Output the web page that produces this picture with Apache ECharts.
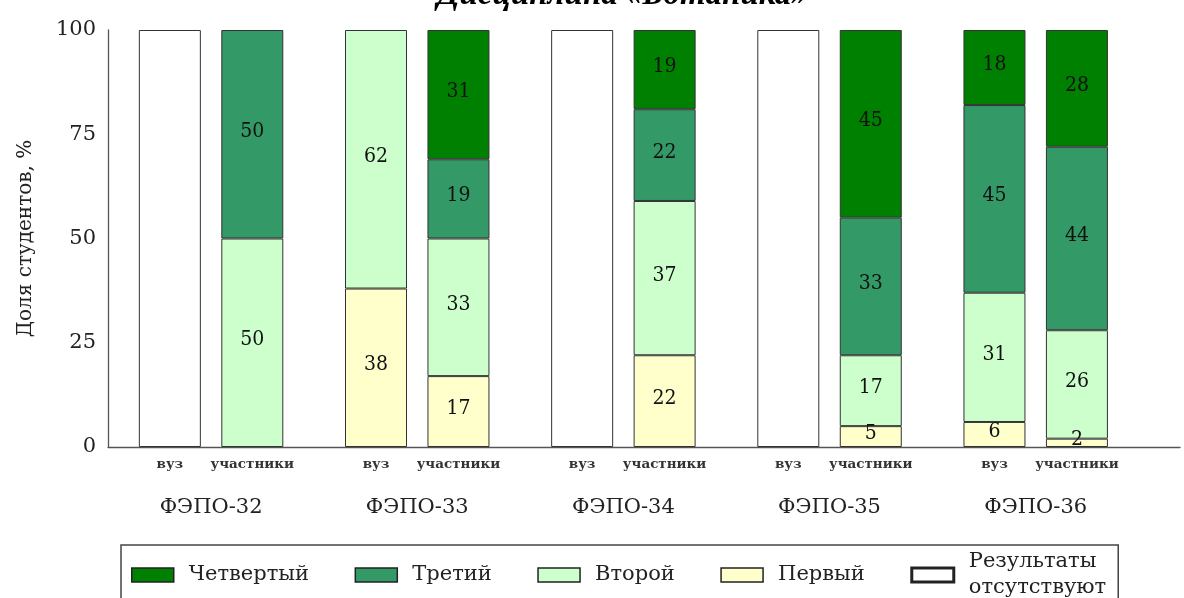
<!DOCTYPE html>
<html>
<head>
<meta charset="utf-8">
<script src="https://cdn.jsdelivr.net/npm/echarts@6/dist/echarts.min.js"></script>
<style>
html,body{margin:0;padding:0;background:#fff;}
#chart{width:1184px;height:598px;}
</style>
</head>
<body>
<div id="chart"></div>
<script>
// ---- data ----
const titleText = 'Дисциплина «Ботаника»';
const groups = ['ФЭПО-32', 'ФЭПО-33', 'ФЭПО-34', 'ФЭПО-35', 'ФЭПО-36'];
const subLabels = ['вуз', 'участники'];
const yAxisName = 'Доля студентов, %';
// bars in order: ФЭПО-32 вуз, ФЭПО-32 участники, ФЭПО-33 вуз, ...
const first   = [null, null, 38, 17, null, 22, null, 5, 6, 2];
const second  = [null, 50, 62, 33, null, 37, null, 17, 31, 26];
const third   = [null, 50, null, 19, null, 22, null, 33, 45, 44];
const fourth  = [null, null, null, 31, null, 19, null, 45, 18, 28];
const missing = [100, null, null, null, 100, null, 100, null, null, null];
const seriesNames = ['Первый', 'Второй', 'Третий', 'Четвертый', 'Результаты\nотсутствуют'];

// ---- layout helpers (slots on a category axis) ----
const SLOTS = 26;
const slotOf = (g, j) => 1 + 5 * g + 2 * j;
const slotIds = Array.from({length: SLOTS}, (_, i) => 's' + i);
const subLabelBySlot = {}, groupLabelBySlot = {};
groups.forEach((g, gi) => {
  subLabels.forEach((s, j) => { subLabelBySlot[slotOf(gi, j)] = s; });
  groupLabelBySlot[slotOf(gi, 0) + 1] = g;
});
function toSlots(arr) {
  const out = new Array(SLOTS).fill(null);
  arr.forEach((v, k) => { out[slotOf(Math.floor(k / 2), k % 2)] = v; });
  return out;
}

const serif = 'DejaVu Serif';
const colors = ['#ffffcc', '#ccffcc', '#339966', '#008000', '#ffffff'];
const values = [first, second, third, fourth, missing];

const series = values.map((arr, i) => ({
  name: seriesNames[i],
  type: 'bar',
  stack: 'total',
  barWidth: 62,
  data: toSlots(arr),
  itemStyle: { color: colors[i], borderColor: '#333', borderWidth: 1 },
  label: {
    show: i < 4,
    position: 'inside',
    offset: [0, -3],
    color: '#111',
    fontFamily: '"DejaVu Serif Condensed", "Liberation Serif", serif',
    fontSize: 21,
    formatter: p => p.value
  },
  emphasis: { disabled: true }
}));

const chart = echarts.init(document.getElementById('chart'), null, {renderer: 'canvas'});
chart.setOption({
  animation: false,
  backgroundColor: '#fff',
  title: {
    text: titleText,
    left: 432,
    top: -26,
    textStyle: { fontFamily: 'Liberation Serif', fontStyle: 'italic', fontWeight: 'bold', fontSize: 33, color: '#000' }
  },
  grid: { left: 108, right: 4, top: 30, bottom: 151, containLabel: false },
  legend: {
    data: [
      { name: 'Четвертый' },
      { name: 'Третий' },
      { name: 'Второй' },
      { name: 'Первый' },
      { name: 'Результаты\nотсутствуют', itemStyle: { borderWidth: 3, borderColor: '#222' } }
    ],
    left: 121,
    top: 545,
    orient: 'horizontal',
    padding: [4, 12, 8, 10],
    itemWidth: 42,
    itemHeight: 14,
    itemGap: 45.5,
    icon: 'rect',
    borderColor: '#444',
    borderWidth: 1.5,
    backgroundColor: '#fff',
    selectedMode: false,
    itemStyle: { borderColor: '#222', borderWidth: 1.5 },
    textStyle: { fontFamily: serif, fontSize: 21, color: '#222', lineHeight: 26, padding: [0, 0, 0, 10] }
  },
  xAxis: [
    {
      type: 'category',
      data: slotIds,
      position: 'bottom',
      axisLine: { show: true, lineStyle: { color: '#555', width: 1.3 } },
      axisTick: { show: false },
      axisLabel: {
        interval: 0,
        margin: 10,
        fontFamily: serif,
        fontSize: 13.5,
        fontWeight: 'bold',
        color: '#333',
        formatter: (v, idx) => subLabelBySlot[idx] || ''
      },
      splitLine: { show: false }
    },
    {
      type: 'category',
      data: slotIds,
      position: 'bottom',
      offset: 42,
      axisLine: { show: false },
      axisTick: { show: false },
      axisLabel: {
        interval: 0,
        margin: 8,
        fontFamily: serif,
        fontSize: 21,
        color: '#222',
        formatter: (v, idx) => groupLabelBySlot[idx] || ''
      },
      splitLine: { show: false }
    }
  ],
  yAxis: {
    type: 'value',
    min: 0,
    max: 100,
    interval: 25,
    name: yAxisName,
    nameLocation: 'middle',
    nameGap: 72,
    nameTextStyle: { fontFamily: serif, fontSize: 20, color: '#222' },
    axisLine: { show: true, lineStyle: { color: '#555', width: 1.3 } },
    axisTick: { show: false },
    splitLine: { show: false },
    axisLabel: { fontFamily: serif, fontSize: 21, color: '#222', margin: 12 }
  },
  series: series
});
</script>
</body>
</html>
